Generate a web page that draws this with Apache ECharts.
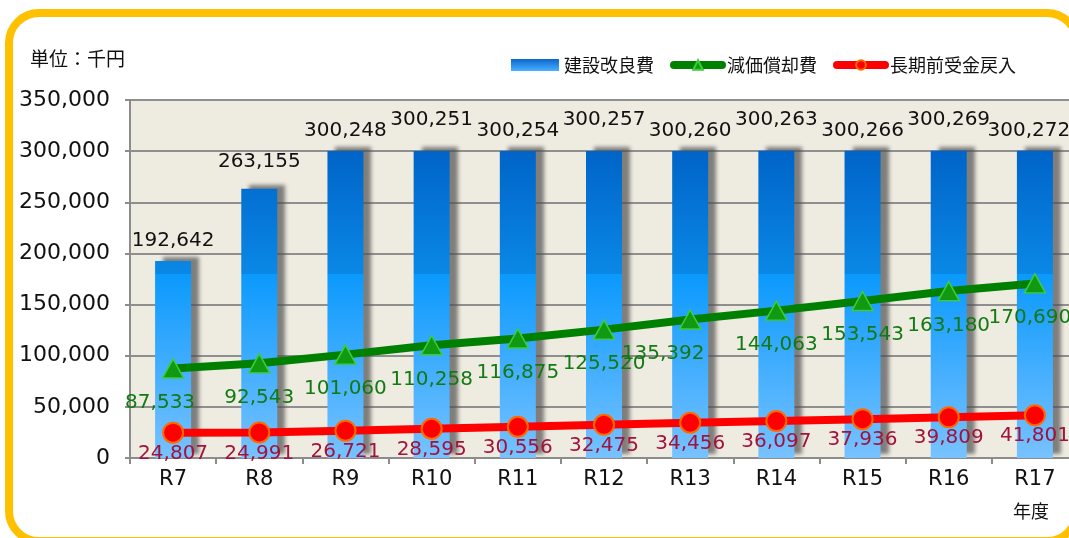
<!DOCTYPE html>
<html>
<head>
    <meta charset="UTF-8">
    <title></title>
    <script type="text/javascript" src="https://cdn.jsdelivr.net/npm/echarts@6/dist/echarts.min.js"></script>
    <style>
        html, body { margin: 0; padding: 0; overflow: hidden; background: #fff; }
        #main { width: 1078px; height: 538px; }
    </style>
</head>
<body>
<div id="main"></div>
<script>
    var years = ['R7', 'R8', 'R9', 'R10', 'R11', 'R12', 'R13', 'R14', 'R15', 'R16', 'R17'];
    var kenSetsu = [192642, 263155, 300248, 300251, 300254, 300257, 300260, 300263, 300266, 300269, 300272];
    var genka = [87533, 92543, 101060, 110258, 116875, 125520, 135392, 144063, 153543, 163180, 170690];
    var choki = [24807, 24991, 26721, 28595, 30556, 32475, 34456, 36097, 37936, 39809, 41801];
    var yTicks = [0, 50000, 100000, 150000, 200000, 250000, 300000, 350000];
    var names = ['建設改良費', '減価償却費', '長期前受金戻入'];

    var font = "'DejaVu Sans', 'Noto Sans CJK JP', sans-serif";
    function fmt(v) { return v.toLocaleString('en-US'); }

    // 柱のグラデーション（グリッド上の絶対座標）
    var barColor = new echarts.graphic.LinearGradient(0, 151, 0, 458, [
        {offset: 0, color: '#0064c8'},
        {offset: 0.40, color: '#0a88e6'},
        {offset: 0.40, color: '#0a99fd'},
        {offset: 1, color: '#78c2ff'}
    ], true);

    var barLift = [0, 7, 0, 11, 0, 11, 0, 11, 0, 11, 0];
    var barData = kenSetsu.map(function (v, i) {
        return {value: v, label: {distance: 10 + barLift[i], offset: [i === 10 ? -6 : 0, 0]}};
    });
    var greenShift = [-13, 0, 0, 0, 0, 0, -27, 0, 0, 0, -5];
    var genkaData = genka.map(function (v, i) {
        return {value: v, label: {offset: [greenShift[i], 0]}};
    });

    var myChart = echarts.init(document.getElementById('main'));
    myChart.setOption({
        animation: false,
        textStyle: {fontFamily: font},
        grid: {
            left: 130, right: 0, top: 100, bottom: 80,
            show: true, backgroundColor: '#eeebe0', borderWidth: 0
        },
        graphic: [
            {
                type: 'rect', z: -1, silent: true,
                shape: {x: 9, y: 13, width: 1068, height: 528, r: 30},
                style: {fill: 'none', stroke: '#ffc000', lineWidth: 8}
            },
            {
                type: 'text', left: 30, top: 49,
                style: {text: '単位：千円', font: "19px 'Noto Sans CJK JP'", fill: '#111'}
            },
            {
                type: 'text', left: 1013, top: 502,
                style: {text: '年度', font: "18px 'Noto Sans CJK JP'", fill: '#111'}
            }
        ],
        legend: {
            left: 506, top: 51,
            itemGap: 16,
            itemWidth: 48, itemHeight: 12,
            textStyle: {fontSize: 18, color: '#111', fontFamily: "'Noto Sans CJK JP'"},
            data: [
                {name: names[0], icon: 'rect', itemStyle: {color: new echarts.graphic.LinearGradient(0, 0, 0, 1, [
                    {offset: 0, color: '#0a66cc'}, {offset: 1, color: '#4ab0ff'}])}},
                {name: names[1], lineStyle: {width: 8, cap: 'round', color: '#008000'}},
                {name: names[2], lineStyle: {width: 8, cap: 'round', color: '#ff0000'}}
            ]
        },
        xAxis: {
            type: 'category',
            data: years,
            axisLine: {lineStyle: {color: '#8c8c8c', width: 2}},
            axisTick: {show: true, length: 6, lineStyle: {color: '#8c8c8c', width: 2}},
            axisLabel: {fontSize: 21, color: '#111', margin: 11}
        },
        yAxis: {
            type: 'value',
            min: yTicks[0], max: yTicks[yTicks.length - 1], interval: yTicks[1] - yTicks[0],
            axisLine: {show: true, lineStyle: {color: '#8c8c8c', width: 2}},
            axisTick: {show: true, length: 5, lineStyle: {color: '#8c8c8c', width: 2}},
            splitLine: {lineStyle: {color: '#8f8f8f', width: 2}},
            axisLabel: {fontSize: 22, color: '#111', margin: 20, formatter: fmt}
        },
        series: [
            {
                name: names[0],
                type: 'bar',
                barWidth: 36,
                data: barData,
                itemStyle: {
                    color: barColor,
                    shadowColor: 'rgba(80,80,80,0.7)',
                    shadowBlur: 4, shadowOffsetX: 8, shadowOffsetY: -4
                },
                label: {
                    show: true, position: 'top', fontSize: 20, color: '#111',
                    formatter: function (p) { return fmt(p.value); }
                },
                z: 2
            },
            {
                name: names[1],
                type: 'line',
                data: genkaData,
                symbol: 'triangle',
                symbolSize: [21, 19],
                lineStyle: {color: '#008000', width: 8},
                itemStyle: {color: '#119911', borderColor: '#3ccc3c', borderWidth: 1.5},
                label: {
                    show: true, position: 'bottom', distance: 14, fontSize: 20, color: '#137a13',
                    formatter: function (p) { return fmt(p.value); }
                },
                z: 3
            },
            {
                name: names[2],
                type: 'line',
                data: choki,
                symbol: 'circle',
                symbolSize: 20,
                lineStyle: {color: '#ff0000', width: 8},
                itemStyle: {color: '#ff0000', borderColor: '#ff6a00', borderWidth: 2},
                label: {
                    show: true, position: 'bottom', distance: 0, fontSize: 20, color: '#a3123c',
                    formatter: function (p) { return fmt(p.value); }
                },
                z: 4
            }
        ]
    });
</script>
</body>
</html>
